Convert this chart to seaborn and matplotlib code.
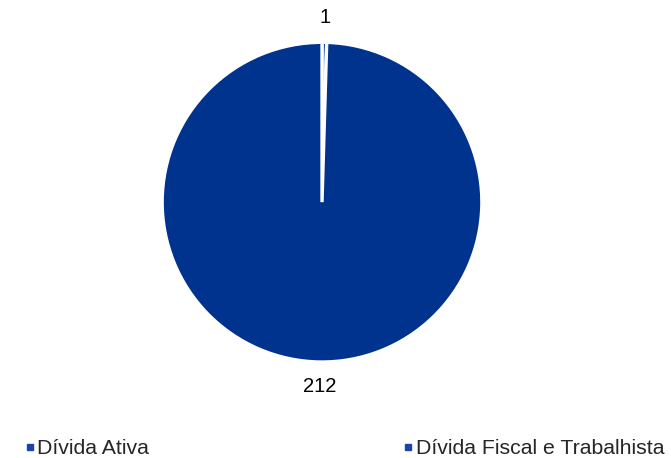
import matplotlib
matplotlib.use("Agg")
import matplotlib.pyplot as plt
from matplotlib.lines import Line2D
import seaborn as sns

categorias = ["Dívida Ativa", "Dívida Fiscal e Trabalhista"]
valores = [1, 212]
cores = ["#0A3A9A", "#00338D"]

sns.set_theme(style="white")
plt.rcParams['font.family'] = ['Liberation Sans', 'DejaVu Sans']

fig = plt.figure(figsize=(6.71, 4.58), dpi=100)
ax = fig.add_axes([0.2414, 0.2096, 0.477, 0.698])

wedges, textos = ax.pie(valores, labels=[str(v) for v in valores], colors=cores,
                        startangle=90, counterclock=False, labeldistance=1.155,
                        wedgeprops=dict(edgecolor="white", linewidth=2.4),
                        textprops=dict(fontsize=14.5, color="black"))
for t in textos:
    t.set_horizontalalignment("center")
    t.set_verticalalignment("center")
ax.set_xlim(-1, 1)
ax.set_ylim(-1, 1)
ax.axis("off")

handles = [Line2D([], [], marker="s", linestyle="", markersize=4.5,
                  color="#1A44A8") for c in cores]
fig.legend(handles, categorias, loc="center left", bbox_to_anchor=(0.025, 0.02),
           ncol=2, frameon=False, fontsize=15.3, handletextpad=0.15,
           handlelength=0.4, columnspacing=12.0, borderaxespad=0)

fig.savefig("out.png", dpi=100)
